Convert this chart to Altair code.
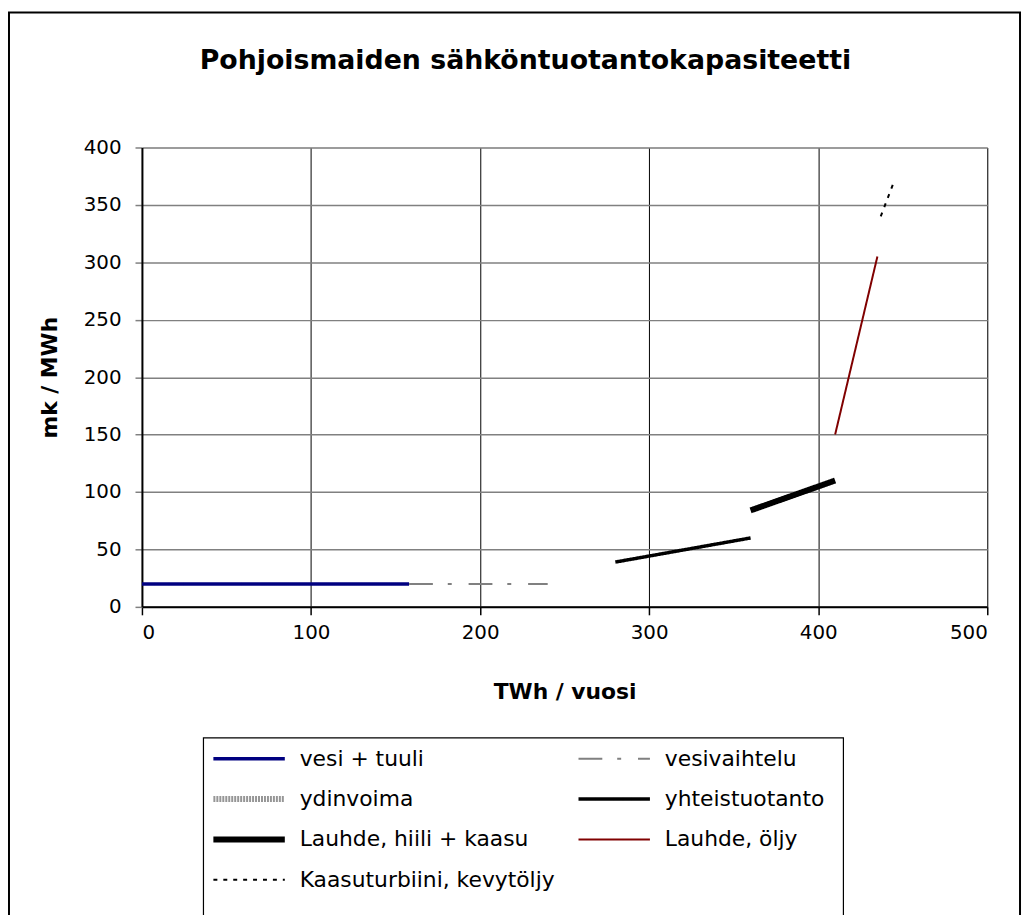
import altair as alt
import pandas as pd

# Legend / series definitions
series = ["vesi + tuuli", "vesivaihtelu", "ydinvoima", "yhteistuotanto",
          "Lauhde, hiili + kaasu", "Lauhde, öljy", "Kaasuturbiini, kevytöljy"]
colors = ["#000080", "#808080", "#969696", "#000000", "#000000", "#800000", "#000000"]
dashes = [[1, 0], [24, 15, 4, 17], [2, 1], [1, 0], [1, 0], [1, 0], [4, 6]]
widths = [3.5, 2, 6, 3.5, 6, 2, 2]

# Segments drawn in the plot (start / end points)
seg_series = ["vesi + tuuli", "vesivaihtelu", "yhteistuotanto",
              "Lauhde, hiili + kaasu", "Lauhde, öljy", "Kaasuturbiini, kevytöljy"]
x_start = [0, 158, 280, 360, 410, 437]
x_end = [158, 240, 360, 410, 435, 445]
y_start = [20, 20, 39, 84, 150, 340]
y_end = [20, 20, 60, 110, 305, 371]

x_ticks = [0, 100, 200, 300, 400, 500]
y_ticks = [0, 50, 100, 150, 200, 250, 300, 350, 400]

rows = []
for s, xa, xb, ya, yb in zip(seg_series, x_start, x_end, y_start, y_end):
    rows.append({"series": s, "x": xa, "y": ya, "o": 0})
    rows.append({"series": s, "x": xb, "y": yb, "o": 1})
df = pd.DataFrame(rows)

FONT = "DejaVu Sans"

leg = alt.Legend(orient="none", legendX=59, legendY=595, columns=2, direction="horizontal",
                 title=None, symbolType="stroke", symbolSize=5184, labelFontSize=22,
                 labelFont=FONT, labelColor="black",
                 padding=10, columnPadding=20, rowPadding=18.7, labelOffset=12,
                 clipHeight=22, labelLimit=400)

lines = alt.Chart(df).mark_line(strokeCap="butt", clip=False).encode(
    x=alt.X("x:Q", scale=alt.Scale(domain=[0, 500], nice=False),
            axis=alt.Axis(values=x_ticks, title="TWh / vuosi", titleFontSize=22,
                          titleFont=FONT, titleFontWeight="bold", titleColor="black",
                          labelFontSize=20, labelFont=FONT, labelColor="black",
                          gridColor="black", gridWidth=1, gridOpacity=1,
                          tickColor="black", tickSize=8, tickWidth=1.5,
                          domainColor="black", domainWidth=2,
                          labelPadding=8, titlePadding=39)),
    y=alt.Y("y:Q", scale=alt.Scale(domain=[0, 400], nice=False),
            axis=alt.Axis(values=y_ticks, title="mk / MWh", titleFontSize=22,
                          titleFont=FONT, titleFontWeight="bold", titleColor="black",
                          labelFontSize=20, labelFont=FONT, labelColor="black",
                          gridColor="#808080", gridWidth=1.5, gridOpacity=1,
                          tickColor="#808080", tickSize=7, tickWidth=1.5,
                          domainColor="black", domainWidth=2,
                          labelPadding=14, titlePadding=22)),
    color=alt.Color("series:N", scale=alt.Scale(domain=series, range=colors), legend=leg),
    strokeDash=alt.StrokeDash("series:N", scale=alt.Scale(domain=series, range=dashes), legend=leg),
    strokeWidth=alt.StrokeWidth("series:N",
                                scale=alt.Scale(type="ordinal", domain=series, range=widths),
                                legend=leg),
    order="o:Q",
    detail="series:N",
)

blank = pd.DataFrame({"a": [0]})

# outer chart-area border
frame = alt.Chart(blank).mark_rect(
    fill=None, stroke="black", strokeWidth=2, clip=False
).encode(
    x=alt.value(-134), x2=alt.value(885), y=alt.value(-136), y2=alt.value(800)
)

# legend box border
legend_box = alt.Chart(blank).mark_rect(
    fill="white", stroke="black", strokeWidth=1.2, clip=False
).encode(
    x=alt.value(62), x2=alt.value(707), y=alt.value(595), y2=alt.value(790)
)

chart = alt.layer(frame, legend_box, lines).properties(
    width=852, height=463,
    title=alt.TitleParams("Pohjoismaiden sähköntuotantokapasiteetti", font=FONT,
                          fontSize=27, fontWeight="bold", color="black",
                          anchor="middle", frame="bounds", baseline="alphabetic",
                          dx=11, offset=-85),
    autosize=alt.AutoSizeParams(type="none"),
    padding={"left": 135, "top": 137, "right": 35, "bottom": 310},
).configure_view(stroke="black", strokeWidth=1.5).configure(background="white")

chart.save("out.html", embed_options={"renderer": "svg", "actions": False})
